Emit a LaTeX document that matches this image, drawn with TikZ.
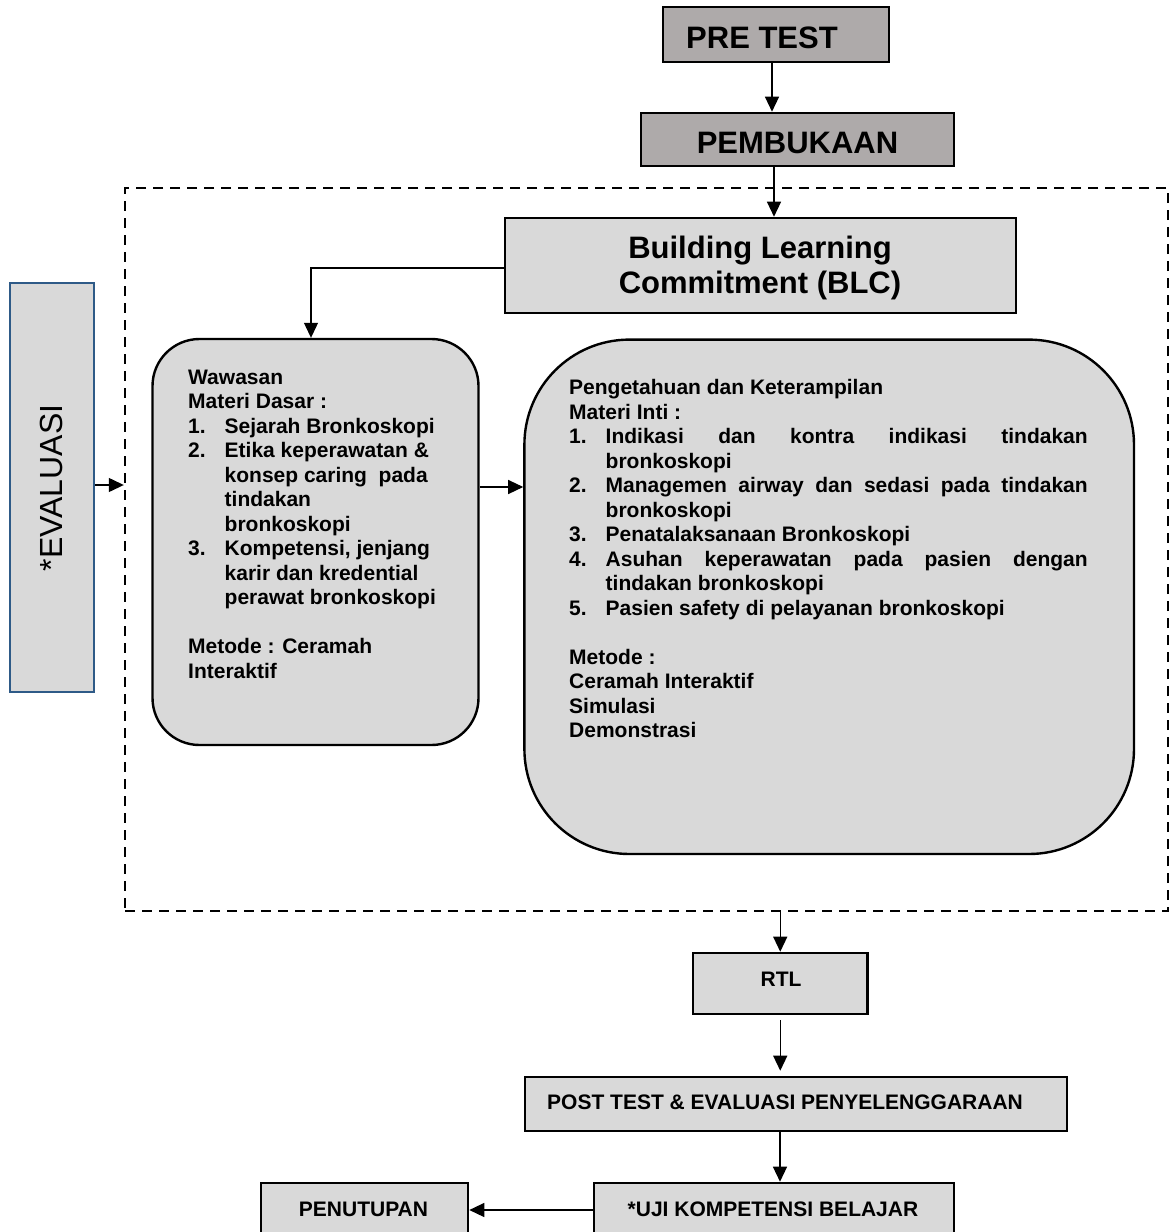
\documentclass[tikz,border=0pt]{standalone}
\usepackage{fontspec}
\setmainfont{Liberation Sans}
\usetikzlibrary{arrows.meta}
\definecolor{darkg}{HTML}{AEAAAA}
\definecolor{lightg}{HTML}{D9D9D9}
\definecolor{evalblue}{HTML}{2E5A87}
\newcommand\numline[2]{\makebox[36.5pt][l]{#1}#2}
\newcommand\contline[1]{\hspace*{36.5pt}#1}
\tikzset{
  boxa/.style={draw, line width=2.6pt, fill=lightg, inner sep=0pt},
  boxd/.style={boxa, fill=darkg},
  rbox/.style={boxa, line width=2.4pt},
  arr/.style={draw, line width=1.3pt, -{Triangle[length=15pt,width=14pt]}},
  bigt/.style={font=\fontsize{31}{35}\selectfont\bfseries, inner sep=0pt, align=center},
  smallt/.style={font=\fontsize{21}{24.5}\selectfont\bfseries, inner sep=0pt},
  framed/.style={draw, line width=2.4pt, dash pattern=on 10pt off 7pt, inner sep=0pt}
}
\begin{document}
\begin{tikzpicture}[x=1pt,y=-1pt]
\useasboundingbox (0,0) rectangle (1171,1232);
\fill[white] (0,0) rectangle (1171,1232);
\clip (0,0) rectangle (1171,1232);

% dashed frame
\node[framed, minimum width=1043pt, minimum height=723pt] (frame) at (646.5,549.5) {};

% boxes
\node[boxd, minimum width=226pt, minimum height=55pt] (pre) at (776,34.5) {};
\node[bigt] (preT) at (762,38) {PRE TEST};
\node[boxd, minimum width=313pt, minimum height=53pt] (pemb) at (797.5,139.5) {};
\node[bigt] (pembT) at (797.5,143) {PEMBUKAAN};
\node[boxa, minimum width=511pt, minimum height=95pt] (blc) at (760.5,265.5) {};
\node[bigt] (blcT) at (760,268) {Building Learning\\Commitment (BLC)};

\node[boxa, draw=evalblue, minimum width=84pt, minimum height=409pt] (eval) at (52,487.5) {};
\node[font=\fontsize{32}{36}\selectfont, inner sep=0pt, rotate=90] (evalT) at (51,488) {*EVALUASI};

\node[rbox, rounded corners=47pt, minimum width=326pt, minimum height=406pt] (waw) at (315.5,542) {};
\node[smallt, anchor=base west] (wawT) at (188,384) {\parbox[t]{300pt}{%
Wawasan\\
Materi Dasar :\\
\numline{1.}{Sejarah Bronkoskopi}\\
\numline{2.}{Etika keperawatan \&}\\
\contline{konsep caring\ \ pada}\\
\contline{tindakan}\\
\contline{bronkoskopi}\\
\numline{3.}{Kompetensi, jenjang}\\
\contline{karir dan kredential}\\
\contline{perawat bronkoskopi}\\
\mbox{}\\
Metode : Ceramah\\
Interaktif}};

\node[rbox, rounded corners=105pt, minimum width=609.6pt, minimum height=514.4pt] (pen) at (829.2,596.8) {};
\node[smallt, anchor=base west] (penT) at (569,394.5) {\parbox[t]{560pt}{%
Pengetahuan dan Keterampilan\\
Materi Inti :\\
\numline{1.}{\makebox[482pt][s]{Indikasi dan kontra indikasi tindakan}}\\
\contline{bronkoskopi}\\
\numline{2.}{\makebox[482pt][s]{Managemen airway dan sedasi pada tindakan}}\\
\contline{bronkoskopi}\\
\numline{3.}{Penatalaksanaan Bronkoskopi}\\
\numline{4.}{\makebox[482pt][s]{Asuhan keperawatan pada pasien dengan}}\\
\contline{tindakan bronkoskopi}\\
\numline{5.}{Pasien safety di pelayanan bronkoskopi}\\
\mbox{}\\
Metode :\\
Ceramah Interaktif\\
Simulasi\\
Demonstrasi}};

\node[boxa, minimum width=174.5pt, minimum height=61pt] (rtl) at (780.25,983.5) {};
\node[smallt] (rtlT) at (781,979) {RTL};
\node[boxa, minimum width=542pt, minimum height=54pt] (post) at (796,1104) {};
\node[smallt, anchor=west] (postT) at (547,1102) {POST TEST \& EVALUASI PENYELENGGARAAN};
\node[boxa, minimum width=360pt, minimum height=62pt] (uji) at (774,1214) {};
\node[smallt] (ujiT) at (773,1209) {*UJI KOMPETENSI BELAJAR};
\node[boxa, minimum width=207pt, minimum height=62pt] (penut) at (364.5,1214) {};
\node[smallt] (penutT) at (363.5,1209) {PENUTUPAN};

% connectors
\draw[arr] ([xshift=-4pt]pre.south) -- ([xshift=-25.5pt]pemb.north);
\draw[arr] ([xshift=-23.5pt]pemb.south) -- ([xshift=13.5pt]blc.north);
\draw[arr, line width=1.1pt] ([yshift=-2.5pt]blc.west) -| ([xshift=-4.5pt]waw.north);
\coordinate (evout) at ([yshift=2.5pt]eval.east);
\draw[arr] (evout) -- (evout -| frame.west);
\coordinate (wawout) at ([yshift=55pt]waw.east);
\draw[arr] (wawout) -- (wawout -| pen.west);
\draw[arr] (rtl.north |- frame.south) -- (rtl.north);
\coordinate (postin) at ([yshift=5pt]post.north);
\draw[arr] ([yshift=-5pt]rtl.south) -- (postin -| rtl.south);
\draw[arr] ([xshift=-16pt]post.south) -- ([xshift=6pt]uji.north);
\draw[arr] ([yshift=4pt]uji.west) -- ([yshift=4pt]penut.east);
\end{tikzpicture}
\end{document}
